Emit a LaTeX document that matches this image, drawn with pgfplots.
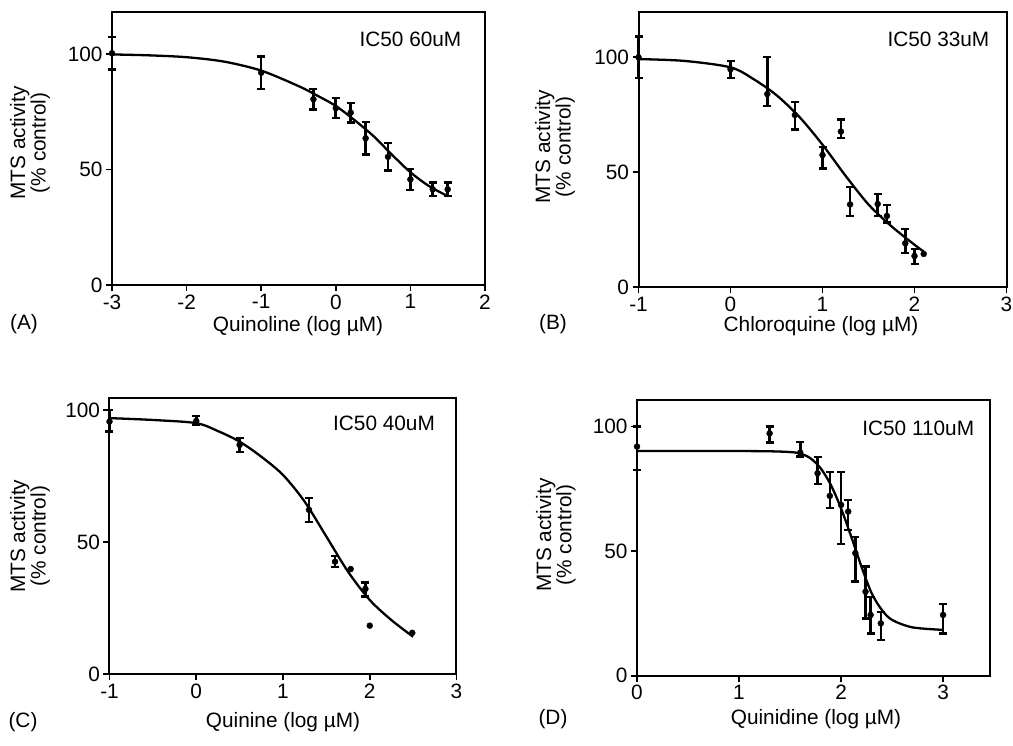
\documentclass[border=0pt]{standalone}
\usepackage{fontspec}
\setmainfont{Liberation Sans}
\usepackage{pgfplots}
\pgfplotsset{compat=1.18}
\usepackage{pgfplotstable}
\newcommand{\F}{\fontsize{20.8}{22}\selectfont}

% ---------- Panel A : Quinoline ----------
\pgfplotstableread{
x y ep em
-3 100.3 7 7
-1 91.9 7 7
-0.3 80.4 4.5 4.5
0 76.5 4.3 4.3
0.2 74.6 4.3 4.3
0.4 63.5 7 7
0.7 55.5 6 6
1.0 45.7 4.5 4.5
1.3 41.4 3 3
1.5 41.4 3 3
}\ptsA
\pgfplotstableread{
x y
-3 99.8
-2.5 99.4
-2 98.6
-1.5 96.7
-1 92.8
-0.5 86.1
-0.25 82.0
0 77.5
0.25 71.4
0.5 64.6
0.75 56.5
1 48.8
1.25 42.8
1.5 38.5
}\curA

% ---------- Panel B : Chloroquine ----------
\pgfplotstableread{
x y ep em
-1 100 9 9
0 94.8 3.7 3.7
0.4 84 16 5.2
0.7 74.9 5.5 6.3
1.0 57.5 3.6 5.8
1.2 67.7 5.3 2.9
1.3 36 7.7 5
1.6 36.2 4.4 5.2
1.7 31 4.8 2.9
1.9 19.1 6.1 4.3
2.0 13.6 2.9 3.5
}\ptsB
\pgfplotstableread{
x y
2.1 14.5
}\bareB
\pgfplotstableread{
x y
-1 99.2
-0.5 98.4
0 95.6
0.25 90.5
0.5 83.5
0.75 74
1 62
1.25 48.5
1.5 36
1.75 26.5
2 18.5
2.1 15.5
}\curB

% ---------- Panel C : Quinine ----------
\pgfplotstableread{
x y ep em
-1 95.6 4.4 3.8
0 95.8 1.9 1.5
0.5 86.8 2.5 2.6
1.3 62.2 4.4 4.5
1.6 42.6 2.2 2.1
1.95 32.3 2.4 2.9
}\ptsC
\pgfplotstableread{
x y
1.78 39.8
2.0 18.4
2.49 15.7
}\bareC
\pgfplotstableread{
x y
-1 96.9
-0.5 96.2
0 95
0.25 92
0.5 88
0.75 82.3
1 75.4
1.25 65.3
1.5 52.1
1.75 38.8
2 28.1
2.25 20.5
2.5 14.2
}\curC

% ---------- Panel D : Quinidine ----------
\pgfplotstableread{
x y ep em
0 92 8 9.4
1.3 97.3 2.7 3.7
1.6 89.6 4.1 1.6
1.77 81.3 6.4 4.4
1.89 72.2 9.7 5
2.0 68.6 13.3 15.8
2.07 65.9 4.7 7.4
2.14 49.2 6.6 11.4
2.24 33.7 10.1 10.7
2.29 24.4 7.3 7.4
2.39 21 4.7 6.7
3.0 24.4 4.4 7.4
}\ptsD
\pgfplotstableread{
x y
0 90.2
0.5 90.2
1 90.2
1.3 90.1
1.5 89.8
1.6 89.2
1.7 87.3
1.8 83.3
1.9 76.6
2.0 67.2
2.1 55.8
2.2 43.8
2.3 33.1
2.4 26.4
2.5 22.4
2.7 19.4
3.0 18.4
}\curD

\pgfplotsset{
 panel/.style={
   scale only axis, clip=false,
   axis line style={line width=2pt},
   every tick/.style={black, line width=1.7pt},
   major tick length=6pt, tick align=outside,
   xtick pos=left, ytick pos=left,
   ymin=0, ytick={0,50,100},
   /pgf/number format/assume math mode=true,
   tick label style={font=\F},
   ylabel={MTS activity\\(\% control)},
   ylabel style={anchor=center, align=center, font=\fontsize{20.8}{18}\selectfont},
 },
 curve/.style={black, line width=2.3pt, smooth, no marks},
 pts/.style={black, only marks, mark=*, mark size=3pt,
    error bars/y dir=both, error bars/y explicit,
    error bars/error bar style={line width=2.6pt},
    error bars/error mark options={rotate=90, mark size=4pt, line width=2.3pt}},
 bare/.style={black, only marks, mark=*, mark size=3pt},
}

\begin{document}
\begin{tikzpicture}[x=1pt,y=1pt]
\path[use as bounding box] (0,0) rectangle (1013,746);

% A
\begin{axis}[panel, at={(112pt,461pt)}, anchor=south west,
  width=373pt, height=273.3pt, xmin=-3, xmax=2, ymax=118.3,
  xtick={-3,-2,-1,0,1,2}, xticklabels={-3,-2,-1,0,1,2},
  ylabel style={at={(axis description cs:-0.22,0.52)}}]
\addplot[curve] table[x=x,y=y]{\curA};
\addplot[pts] table[x=x,y=y,y error plus=ep,y error minus=em]{\ptsA};
\node[anchor=east, font=\F] at (rel axis cs:0.946,0.898) {IC50 60uM};
\end{axis}

% B
\begin{axis}[panel, at={(638.5pt,458.7pt)}, anchor=south west,
  width=368pt, height=275.6pt, xmin=-1, xmax=3, ymax=119.8,
  xtick={-1,0,1,2,3}, xticklabels={-1,0,1,2,3},
  ylabel style={at={(axis description cs:-0.227,0.51)}}]
\addplot[curve] table[x=x,y=y]{\curB};
\addplot[pts] table[x=x,y=y,y error plus=ep,y error minus=em]{\ptsB};
\addplot[bare] table[x=x,y=y]{\bareB};
\node[anchor=east, font=\F] at (rel axis cs:0.963,0.899) {IC50 33uM};
\end{axis}

% C
\begin{axis}[panel, at={(109.5pt,71.7pt)}, anchor=south west,
  width=347pt, height=276pt, xmin=-1, xmax=3, ymax=104.4,
  xtick={-1,0,1,2,3}, xticklabels={-1,0,1,2,3},
  ylabel style={at={(axis description cs:-0.229,0.50)}}]
\addplot[curve] table[x=x,y=y]{\curC};
\addplot[pts] table[x=x,y=y,y error plus=ep,y error minus=em]{\ptsC};
\addplot[bare] table[x=x,y=y]{\bareC};
\node[anchor=east, font=\F] at (rel axis cs:0.948,0.91) {IC50 40uM};
\end{axis}

% D
\begin{axis}[panel, at={(637pt,70.3pt)}, anchor=south west,
  width=353pt, height=275.7pt, xmin=0, xmax=3.46, ymax=110.7,
  xtick={0,1,2,3}, xticklabels={0,1,2,3},
  ylabel style={at={(axis description cs:-0.23,0.51)}}]
\addplot[curve] table[x=x,y=y]{\curD};
\addplot[pts] table[x=x,y=y,y error plus=ep,y error minus=em]{\ptsD};
\node[anchor=east, font=\F] at (rel axis cs:0.965,0.898) {IC50 110uM};
\end{axis}

% axis titles and panel letters
\node[font=\F] at (298,420) {Quinoline (log µM)};
\node[font=\F] at (821,420) {Chloroquine (log µM)};
\node[font=\F] at (283,24) {Quinine (log µM)};
\node[font=\F] at (816,27) {Quinidine (log µM)};
\node[font=\F] at (24,422) {(A)};
\node[font=\F] at (553,422) {(B)};
\node[font=\F] at (23,24) {(C)};
\node[font=\F] at (553,27) {(D)};
\end{tikzpicture}
\end{document}
